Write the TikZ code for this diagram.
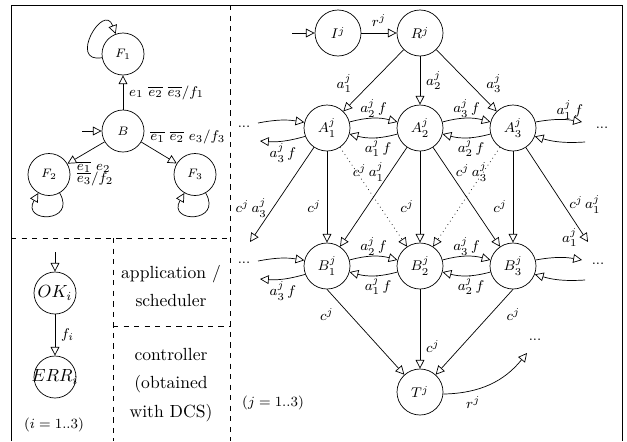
\documentclass[tikz,border=0pt]{standalone}
\usepackage{tikz}
\usepackage{amsmath}
\usetikzlibrary{arrows.meta}

\tikzset{
	st/.style={circle, draw, minimum size=0.92cm, inner sep=0pt, font=\footnotesize},
	smallst/.style={circle, draw, minimum size=0.84cm, inner sep=0pt, font=\scriptsize},
	lab/.style={font=\footnotesize},
	etc/.style={font=\footnotesize, inner sep=0pt},
}

\begin{document}
\begin{tikzpicture}[>={Triangle[fill=white,length=5pt,width=5pt]}]
	\useasboundingbox (0,0) rectangle (12.54,8.82);
	%% frame and boxes
	\draw (0.22,0) -- (0.22,8.72) -- (12.44,8.72) -- (12.44,0);
	\draw[dashed] (4.6,8.72) -- (4.6,0);
	\draw[dashed] (0.22,4.06) -- (4.6,4.06);
	\draw[dashed] (2.26,4.06) -- (2.26,0);
	\draw[dashed] (2.26,2.3) -- (4.6,2.3);

	%% top left automaton
	\node[smallst] (F1) at (2.46,7.74) {$F_1$};
	\node[smallst] (B) at (2.46,6.2) {$B$};
	\node[smallst] (F2) at (0.98,5.33) {$F_2$};
	\node[smallst] (F3) at (3.9,5.33) {$F_3$};
	\coordinate (Bin) at (1.64,6.2);
	\draw[->] (Bin) -- (B);
	\draw[->] (B) -- node[right, lab] {$e_1~\overline{e_2}~\overline{e_3}/f_1$} (F1);
	\draw[->] (B) -- node[pos=0.2, anchor=south west, inner sep=1pt, lab] {$\overline{e_1}~\overline{e_2}~e_3/f_3$} (F3);
	\draw[->] (B) -- node[pos=0.8, anchor=north west, inner sep=1pt, align=left, lab] {$\overline{e_1}~e_2$\\[-3pt]$\overline{e_3}/f_2$} (F2);
	\draw[->] (F1) to[loop, out=190, in=110, min distance=7mm] (F1);
	\draw[->] (F2) to[loop, out=-60, in=-120, min distance=7mm] (F2);
	\draw[->] (F3) to[loop, out=-60, in=-120, min distance=7mm] (F3);

	%% bottom left
	\node[smallst, font=\normalsize] (OK) at (1.1,2.96) {\makebox[0pt]{$OK_i$}};
	\node[smallst, font=\normalsize] (ERR) at (1.1,1.28) {\makebox[0pt]{$ERR_i$}};
	\coordinate (OKin) at (1.1,3.78);
	\draw[->] (OKin) -- (OK);
	\draw[->] (OK) -- node[right, lab] {$f_i$} (ERR);
	\node[lab] (irange) at (1.08,0.32) {$(i = 1..3)$};
	\node[align=center] (app) at (3.42,3.1) {application /\\[4pt] scheduler};
	\node[align=center] (ctrl) at (3.42,1.12) {controller\\[4pt] (obtained\\[4pt] with DCS)};

	%% right automaton
	\coordinate (Iin) at (5.84,8.16);
	\node[st] (I) at (6.76,8.16) {$I^j$};
	\node[st] (R) at (8.4,8.16) {$R^j$};
	\node[st] (A1) at (6.54,6.26) {$A_1^j$};
	\node[st] (A2) at (8.4,6.26) {$A_2^j$};
	\node[st] (A3) at (10.26,6.26) {$A_3^j$};
	\node[st] (B1) at (6.54,3.5) {$B_1^j$};
	\node[st] (B2) at (8.4,3.5) {$B_2^j$};
	\node[st] (B3) at (10.26,3.5) {$B_3^j$};
	\node[st] (T) at (8.4,0.98) {$T^j$};

	\draw[->] (Iin) -- (I);
	\draw[->] (I) -- node[above, lab] {$r^j$} (R);
	\draw[->] (R) -- node[pos=0.55, left=7pt, lab] {$a_1^j$} (A1);
	\draw[->] (R) -- node[right, lab] {$a_2^j$} (A2);
	\draw[->] (R) -- node[pos=0.55, right=6pt, lab] {$a_3^j$} (A3);

	%% A row
	\coordinate (AinL) at (5.16,6.36);
	\coordinate (AoutL) at (5.2,6.0);
	\coordinate (AoutR) at (11.64,6.38);
	\coordinate (AinR) at (11.7,5.98);
	\node[etc] (AdotsL) at (4.88,6.28) {...};
	\node[etc] (AdotsR) at (12.04,6.26) {...};
	\draw[->] (AinL) to[bend left=10] (A1);
	\draw[->] (A1) to[bend left=10] node[below=-2pt, lab] {$a_3^j\,f$} (AoutL);
	\draw[->] (A1) to[bend left=15] node[above=-3pt, lab] {$a_2^j\,f$} (A2);
	\draw[->] (A2) to[bend left=15] node[pos=0.4, below=-3pt, lab] {$a_1^j\,f$} (A1);
	\draw[->] (A2) to[bend left=15] node[above=-3pt, lab] {$a_3^j\,f$} (A3);
	\draw[->] (A3) to[bend left=15] node[pos=0.4, below=-3pt, lab] {$a_2^j\,f$} (A2);
	\draw[->] (A3) to[bend left=10] node[pos=0.75, above=-3pt, lab] {$a_1^j\,f$} (AoutR);
	\draw[->] (AinR) to[bend left=10] (A3);

	%% A row to B row
	\coordinate (AdownL) at (5.0,3.98);
	\coordinate (AdownR) at (11.76,3.98);
	\draw[->] (A1) -- node[pos=0.64, left, lab] {$c^j\,a_3^j$} (AdownL);
	\draw[->] (A1) -- node[pos=0.6, left, lab] {$c^j$} (B1);
	\draw[->, dotted] (A1) -- (B2);
	\draw[->] (A2) -- node[pos=0.25, left, lab] {$c^j\,a_1^j$} (B1);
	\draw[->] (A2) -- node[pos=0.6, left, lab] {$c^j$} (B2);
	\draw[->] (A2) -- node[pos=0.25, right, lab] {$c^j\,a_3^j$} (B3);
	\draw[->, dotted] (A3) -- (B2);
	\draw[->] (A3) -- node[pos=0.6, left, lab] {$c^j$} (B3);
	\draw[->] (A3) -- node[pos=0.6, right, lab] {$c^j\,a_1^j$} (AdownR);

	%% B row
	\coordinate (BinL) at (5.16,3.6);
	\coordinate (BoutL) at (5.2,3.24);
	\coordinate (BoutR) at (11.64,3.62);
	\coordinate (BinR) at (11.7,3.22);
	\node[etc] (BdotsL) at (4.88,3.56) {...};
	\node[etc] (BdotsR) at (11.96,3.54) {...};
	\draw[->] (BinL) to[bend left=10] (B1);
	\draw[->] (B1) to[bend left=10] node[below=-2pt, lab] {$a_3^j\,f$} (BoutL);
	\draw[->] (B1) to[bend left=15] node[above=-3pt, lab] {$a_2^j\,f$} (B2);
	\draw[->] (B2) to[bend left=15] node[pos=0.4, below=-3pt, lab] {$a_1^j\,f$} (B1);
	\draw[->] (B2) to[bend left=15] node[above=-3pt, lab] {$a_3^j\,f$} (B3);
	\draw[->] (B3) to[bend left=15] node[pos=0.4, below=-3pt, lab] {$a_2^j\,f$} (B2);
	\draw[->] (B3) to[bend left=10] node[pos=0.75, above=3pt, lab] {$a_1^j$} (BoutR);
	\draw[->] (BinR) to[bend left=10] (B3);

	%% B row to T
	\draw[->] (B1.south) -- node[pos=0.3, left=6pt, lab] {$c^j$} (T);
	\draw[->] (B2) -- node[pos=0.72, right, lab] {$c^j$} (T);
	\draw[->] (B3.south) -- node[pos=0.3, right=6pt, lab] {$c^j$} (T);
	\coordinate (Tout) at (10.54,1.76);
	\node[etc] (Tdots) at (10.7,2.02) {...};
	\draw[->] (T) to[bend right=25] node[pos=0.3, below, lab] {$r^j$} (Tout);
	\node[lab] (jrange) at (5.46,0.76) {$(j = 1..3)$};
\end{tikzpicture}
\end{document}
